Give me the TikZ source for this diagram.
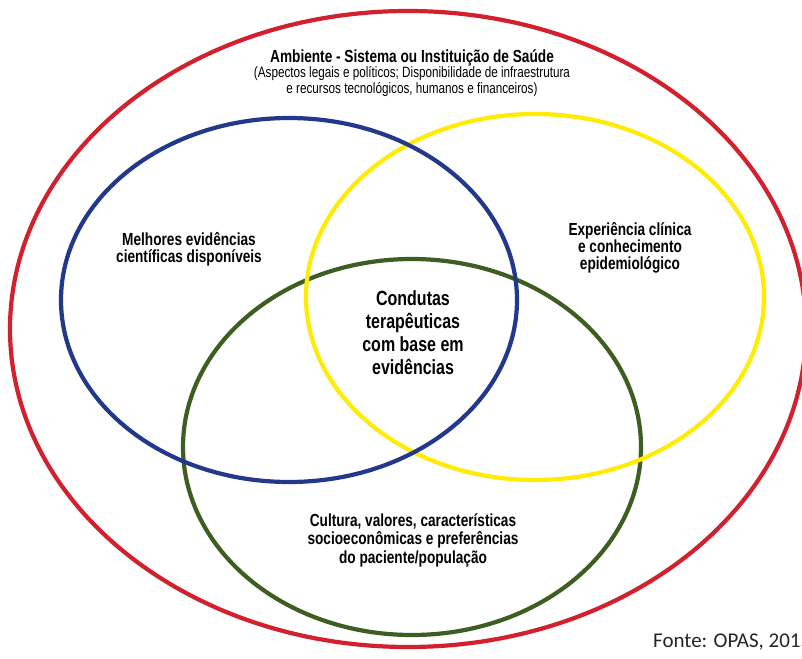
\documentclass[tikz,border=0pt]{standalone}
\usepackage{fontspec}
\setmainfont{Liberation Sans}
\newfontfamily\cond[FakeStretch=0.78]{Liberation Sans}
\newfontfamily\fonte{Carlito}
\definecolor{cred}{HTML}{D3202E}
\definecolor{cblue}{HTML}{22388C}
\definecolor{cyellow}{HTML}{FFEC00}
\definecolor{cgreen}{HTML}{3E5D21}
\tikzset{
  ring/.style={line width=4.2pt},
  lbl/.style={align=center, font=\cond\bfseries\fontsize{17.5}{16.8}\selectfont, inner sep=0pt},
}
\begin{document}
\begin{tikzpicture}[x=1pt,y=-1pt]
\useasboundingbox (0,0) rectangle (802,658);
\fill[white] (0,0) rectangle (802,658);
\draw[ring, cred] (408,329) ellipse [x radius=398, y radius=318];
\draw[ring, cgreen] (412,447) ellipse [x radius=229, y radius=188];
\draw[ring, cyellow] (535,297) ellipse [x radius=229, y radius=183];
\draw[ring, cblue] (289,300) ellipse [x radius=228, y radius=182];
\node[lbl, font=\cond\bfseries\fontsize{17.5}{20}\selectfont] (title) at (412,58) {Ambiente - Sistema ou Instituição de Saúde};
\node[lbl, font=\cond\fontsize{15}{16}\selectfont] (sub) at (412,82) {(Aspectos legais e políticos; Disponibilidade de infraestrutura\\e recursos tecnológicos, humanos e financeiros)};
\node[lbl] (blue) at (189,249) {Melhores evidências\\científicas disponíveis};
\node[lbl] (yellow) at (630,248) {Experiência clínica\\e conhecimento\\epidemiológico};
\node[lbl, font=\cond\bfseries\fontsize{20.5}{23}\selectfont] (center) at (413,333) {Condutas\\terapêuticas\\com base em\\evidências};
\node[lbl, font=\cond\bfseries\fontsize{17.5}{18.5}\selectfont] (green) at (413,540) {Cultura, valores, características\\socioeconômicas e preferências\\do paciente/população};
\node[anchor=base west, inner sep=0pt, font=\fonte\fontsize{21}{23}\selectfont, text=black!85] (src) at (653,647) {Fonte: OPAS, 2015};
\end{tikzpicture}
\end{document}
